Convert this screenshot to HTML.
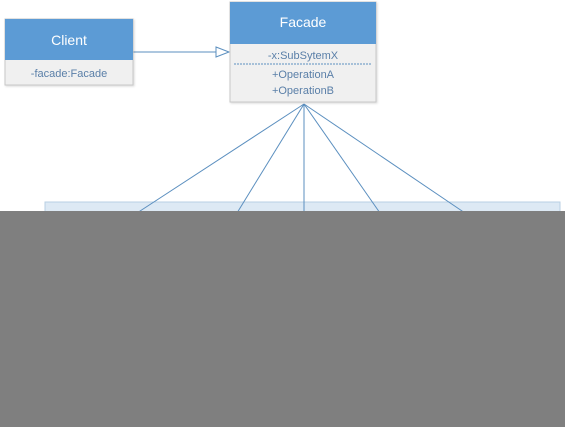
<!DOCTYPE html>
<html><head><style>
body{margin:0;width:566px;height:427px;background:#fff;position:relative;overflow:hidden;font-family:"Liberation Sans",sans-serif}
.a{position:absolute}
</style></head><body>
<svg class="a" style="left:0;top:0" width="566" height="427">
<defs><filter id="s"><feDropShadow dx="1" dy="1" stdDeviation="1" flood-color="#000" flood-opacity="0.15"/></filter></defs>
<rect x="45" y="202" width="515" height="12" fill="#dde9f4" stroke="#b8cfe3"/>
<g stroke="#5b8fbf" stroke-width="1" fill="none">
<line x1="304" y1="104" x2="137" y2="213"/>
<line x1="304" y1="104" x2="237" y2="213"/>
<line x1="304" y1="104" x2="304" y2="213"/>
<line x1="304" y1="104" x2="380" y2="213"/>
<line x1="304" y1="104" x2="465" y2="213"/>
<line x1="133" y1="52" x2="216" y2="52"/>
<polygon points="216,47 229,52 216,57" fill="#fff"/>
</g>
<g filter="url(#s)">
<rect x="5" y="19" width="128" height="66" fill="#f0f0f0" stroke="#c8c8c8"/>
<rect x="5" y="19" width="128" height="41" fill="#5b9bd5"/>
<rect x="230" y="2" width="146" height="100" fill="#f0f0f0" stroke="#c8c8c8"/>
<rect x="230" y="2" width="146" height="42" fill="#5b9bd5"/>
</g>
<line x1="234" y1="64" x2="372" y2="64" stroke="#5b8fbf" stroke-dasharray="2,1"/>
<g font-family="Liberation Sans,sans-serif" text-anchor="middle">
<text x="69" y="45" font-size="14" fill="#fff">Client</text>
<text x="69" y="77" font-size="11" fill="#5a7fa8">-facade:Facade</text>
<text x="303" y="27" font-size="14" fill="#fff">Facade</text>
<text x="303" y="59" font-size="11" fill="#5a7fa8">-x:SubSytemX</text>
<text x="303" y="78" font-size="11" fill="#5a7fa8">+OperationA</text>
<text x="303" y="94" font-size="11" fill="#5a7fa8">+OperationB</text>
</g>
<rect x="0" y="211" width="565" height="216" fill="#7f7f7f"/>
</svg>
</body></html>
